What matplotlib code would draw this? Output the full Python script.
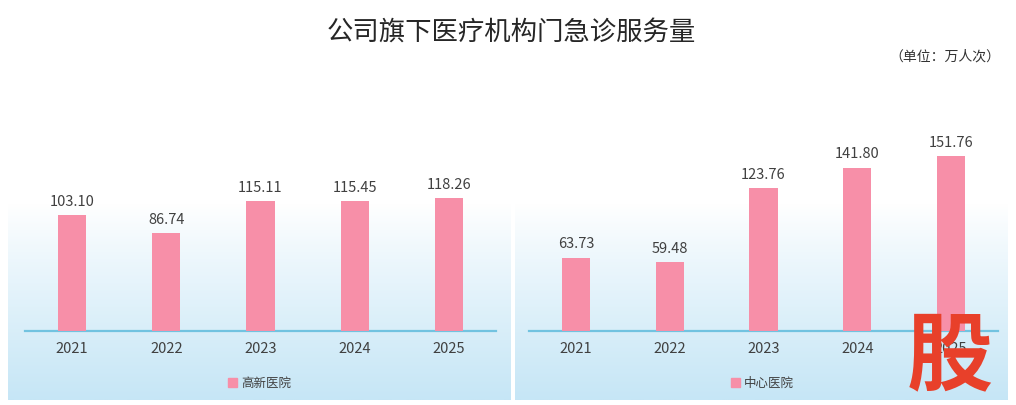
import matplotlib
matplotlib.use("Agg")
import matplotlib.pyplot as plt
import numpy as np
from matplotlib.patches import Rectangle

plt.rcParams['font.family'] = ['Noto Sans CJK SC', 'DejaVu Sans']

years = ["2021", "2022", "2023", "2024", "2025"]
gaoxin = [103.10, 86.74, 115.11, 115.45, 118.26]
zhongxin = [63.73, 59.48, 123.76, 141.80, 151.76]
series_names = ["高新医院", "中心医院"]
title = "公司旗下医疗机构门急诊服务量"
unit = "（单位：万人次）"

W, H = 1016, 406
fig = plt.figure(figsize=(W/100, H/100), dpi=100)

bar_color = "#F78FA8"
axis_color = "#72C3E0"
text_color = "#404040"

def px(x0, y0, x1, y1):
    return [x0/W, 1 - y1/H, (x1-x0)/W, (y1-y0)/H]

def gradient_bg(rect):
    bg = fig.add_axes(rect, zorder=0)
    n = 256
    t = np.linspace(0, 1, n)
    a = np.clip((t - 0.25) / 0.75, 0, 1) ** 0.9
    top = np.array([1.0, 1.0, 1.0])
    bot = np.array([198, 230, 246]) / 255.0
    img = top[None, :] * (1 - a[:, None]) + bot[None, :] * a[:, None]
    img = np.repeat(img[:, None, :], 4, axis=1)
    bg.imshow(img, aspect='auto', extent=[0, 1, 0, 1])
    bg.axis('off')

gradient_bg(px(8, 140, 511, 401))
gradient_bg(px(515, 140, 1008, 401))

def panel(rect, vals, ymax, name, legend_x):
    ax = fig.add_axes(rect, zorder=2)
    ax.patch.set_alpha(0)
    x = np.arange(len(years))
    ax.bar(x, vals, width=0.3, color=bar_color, zorder=3)
    for xi, v in zip(x, vals):
        ax.text(xi, v + ymax*0.035, f"{v:.2f}", ha='center', va='bottom',
                fontsize=10.5, color=text_color)
    ax.set_xlim(-0.5, len(years)-0.5)
    ax.set_ylim(0, ymax)
    ax.set_xticks(x)
    ax.set_xticklabels(years, fontsize=10.5, color=text_color)
    ax.tick_params(axis='x', length=0, pad=7)
    ax.set_yticks([])
    for s in ['top', 'right', 'left']:
        ax.spines[s].set_visible(False)
    ax.spines['bottom'].set_color(axis_color)
    ax.spines['bottom'].set_linewidth(1.6)
    fig.patches.append(Rectangle((legend_x/W, 1-388/H), 9/W, 9/H, transform=fig.transFigure,
                                 color=bar_color, zorder=5))
    fig.text((legend_x+13)/W, 1-383/H, name, fontsize=9, color=text_color, va='center', ha='left')
    return ax

panel(px(25, 120, 496, 332), gaoxin, 188.4, series_names[0], 228)
panel(px(529, 120, 998, 332), zhongxin, 183.9, series_names[1], 731)

fig.text(511/W, 1-32/H, title, fontsize=19, color="#262626", ha='center', va='center',
         fontweight='medium')
fig.text(1000/W, 1-57/H, unit, fontsize=10, color="#333333", ha='right', va='center')

fig.text(950/W, 1-358/H, "股", fontsize=62, color="#E8402A", fontweight='black',
         ha='center', va='center', zorder=10)

fig.savefig("out.png", dpi=100)
